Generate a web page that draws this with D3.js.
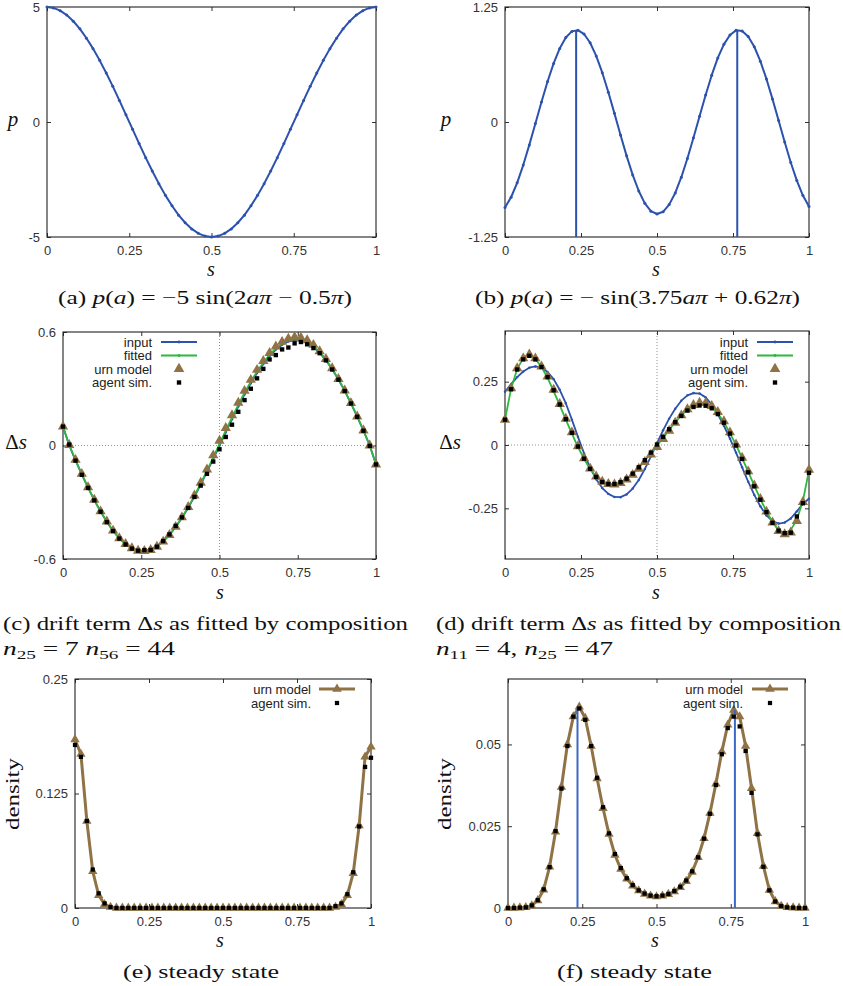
<!DOCTYPE html>
<html>
<head>
<meta charset="utf-8">
<script src="https://cdnjs.cloudflare.com/ajax/libs/d3/7.8.5/d3.min.js"></script>
<style>
  html, body { margin: 0; padding: 0; background: #ffffff; }
  svg { display: block; }
</style>
</head>
<body>
<script>
// ---------------- DATA ----------------
const sVals = [0.00,0.02,0.04,0.06,0.08,0.10,0.12,0.14,0.16,0.18,
               0.20,0.22,0.24,0.26,0.28,0.30,0.32,0.34,0.36,0.38,
               0.40,0.42,0.44,0.46,0.48,0.50,0.52,0.54,0.56,0.58,
               0.60,0.62,0.64,0.66,0.68,0.70,0.72,0.74,0.76,0.78,
               0.80,0.82,0.84,0.86,0.88,0.90,0.92,0.94,0.96,0.98,1.00];

const xTickVals = [0, 0.25, 0.5, 0.75, 1];
const xTickLabels = ["0", "0.25", "0.5", "0.75", "1"];

// (a) p(a)
const pA = [5,4.96,4.84,4.65,4.38,4.05,3.64,3.19,2.68,2.13,
            1.55,0.94,0.31,-0.31,-0.94,-1.55,-2.13,-2.68,-3.19,-3.64,
            -4.05,-4.38,-4.65,-4.84,-4.96,-5,-4.96,-4.84,-4.65,-4.38,
            -4.05,-3.64,-3.19,-2.68,-2.13,-1.55,-0.94,-0.31,0.31,0.94,
            1.55,2.13,2.68,3.19,3.64,4.05,4.38,4.65,4.84,4.96,5];
const aYTicks = [-5, 0, 5];
const aYLabels = ["-5", "0", "5"];

// (b) p(a)
const pB = [-0.930,-0.818,-0.661,-0.468,-0.249,-0.016,0.218,0.440,0.637,0.800,
            0.918,0.985,0.998,0.956,0.861,0.718,0.536,0.324,0.094,-0.141,
            -0.368,-0.575,-0.750,-0.884,-0.969,-1.000,-0.976,-0.898,-0.771,-0.600,
            -0.397,-0.172,0.063,0.294,0.509,0.697,0.844,0.946,0.996,0.990,
            0.930,0.818,0.661,0.468,0.249,0.016,-0.218,-0.440,-0.637,-0.800,-0.918];
const bYTicks = [-1.25, 0, 1.25];
const bYLabels = ["-1.25", "0", "1.25"];
const peakS = [0.234, 0.764];
const bPeakTop = [1.0, 1.0];

// (c) drift term
const cInput = [0.100,0.000,-0.079,-0.153,-0.223,-0.289,-0.349,-0.403,-0.451,-0.490,
                -0.521,-0.542,-0.554,-0.556,-0.550,-0.533,-0.507,-0.473,-0.431,-0.383,
                -0.329,-0.270,-0.206,-0.139,-0.070,0.000,0.070,0.139,0.206,0.270,
                0.329,0.383,0.431,0.473,0.507,0.533,0.550,0.556,0.554,0.542,
                0.521,0.490,0.451,0.403,0.349,0.289,0.223,0.153,0.079,0.000,-0.100];
const cFitted = [0.100,0.002,-0.077,-0.151,-0.222,-0.288,-0.349,-0.403,-0.452,-0.491,
                 -0.522,-0.544,-0.556,-0.558,-0.551,-0.534,-0.507,-0.472,-0.430,-0.381,
                 -0.326,-0.266,-0.201,-0.133,-0.063,0.008,0.079,0.148,0.215,0.279,
                 0.337,0.391,0.438,0.480,0.513,0.539,0.556,0.563,0.560,0.548,
                 0.526,0.494,0.454,0.406,0.351,0.290,0.224,0.153,0.079,0.000,-0.100];
const cUrn = [0.100,0.003,-0.076,-0.150,-0.221,-0.287,-0.348,-0.402,-0.450,-0.490,
              -0.521,-0.543,-0.556,-0.558,-0.552,-0.535,-0.508,-0.473,-0.430,-0.380,
              -0.325,-0.264,-0.197,-0.127,-0.052,0.025,0.093,0.160,0.226,0.289,
              0.347,0.400,0.447,0.489,0.523,0.548,0.565,0.573,0.570,0.556,
              0.532,0.498,0.457,0.408,0.352,0.291,0.224,0.153,0.079,0.000,-0.100];
const cAgent = [0.100,0.005,-0.080,-0.155,-0.224,-0.290,-0.350,-0.405,-0.452,-0.492,
                -0.523,-0.545,-0.556,-0.553,-0.552,-0.535,-0.505,-0.470,-0.425,-0.380,
                -0.330,-0.272,-0.212,-0.150,-0.085,-0.020,0.045,0.110,0.178,0.240,
                0.300,0.355,0.405,0.455,0.478,0.508,0.518,0.540,0.547,0.535,
                0.515,0.488,0.450,0.402,0.348,0.288,0.222,0.152,0.078,-0.002,-0.100];
const cYTicks = [-0.6, 0, 0.6];
const cYLabels = ["-0.6", "0", "0.6"];

// (d) drift term
const dInput = [0.210,0.240,0.268,0.290,0.305,0.310,0.305,0.288,0.260,0.218,
                0.165,0.100,0.032,-0.033,-0.090,-0.135,-0.170,-0.193,-0.205,-0.206,
                -0.195,-0.172,-0.138,-0.095,-0.045,0.007,0.058,0.104,0.143,0.175,
                0.196,0.205,0.203,0.188,0.160,0.122,0.076,0.025,-0.030,-0.088,
                -0.145,-0.197,-0.242,-0.278,-0.300,-0.310,-0.306,-0.290,-0.262,-0.232,-0.212];
const dFitted = [0.100,0.222,0.300,0.343,0.357,0.340,0.308,0.265,0.213,0.157,
                 0.100,0.045,-0.008,-0.055,-0.095,-0.125,-0.145,-0.154,-0.155,-0.148,
                 -0.134,-0.115,-0.090,-0.062,-0.032,-0.002,0.028,0.060,0.090,0.117,
                 0.140,0.156,0.165,0.163,0.150,0.125,0.090,0.047,0.000,-0.052,
                 -0.105,-0.160,-0.213,-0.262,-0.305,-0.337,-0.350,-0.335,-0.295,-0.220,-0.100];
const dUrn = [0.100,0.224,0.303,0.342,0.357,0.342,0.310,0.270,0.218,0.162,
              0.104,0.050,-0.005,-0.052,-0.093,-0.124,-0.145,-0.154,-0.156,-0.150,
              -0.136,-0.118,-0.094,-0.067,-0.038,-0.008,0.024,0.056,0.088,0.117,
              0.141,0.158,0.167,0.166,0.154,0.130,0.094,0.050,0.002,-0.050,
              -0.104,-0.160,-0.213,-0.263,-0.306,-0.340,-0.352,-0.345,-0.300,-0.225,-0.098];
const dAgent = [0.100,0.220,0.298,0.338,0.352,0.338,0.308,0.268,0.216,0.160,
                0.102,0.048,-0.006,-0.054,-0.094,-0.126,-0.146,-0.154,-0.154,-0.147,
                -0.133,-0.113,-0.088,-0.060,-0.030,0.002,0.032,0.062,0.090,0.115,
                0.136,0.150,0.156,0.155,0.145,0.122,0.088,0.045,-0.002,-0.055,
                -0.108,-0.163,-0.216,-0.265,-0.307,-0.338,-0.348,-0.346,-0.282,-0.230,-0.110];
const dYTicks = [-0.25, 0, 0.25];
const dYLabels = ["-0.25", "0", "0.25"];

// (e) steady state
const eUrn = [0.184,0.168,0.095,0.040,0.014,0.004,0.001,0,0,0,
              0,0,0,0,0,0,0,0,0,0,
              0,0,0,0,0,0,0,0,0,0,
              0,0,0,0,0,0,0,0,0,0,
              0,0,0,0,0.001,0.004,0.014,0.038,0.090,0.165,0.176];
const eAgent = [0.178,0.165,0.095,0.042,0.016,0.005,0.001,0,0,0,
                0,0,0,0,0,0,0,0,0,0,
                0,0,0,0,0,0,0,0,0,0,
                0,0,0,0,0,0,0,0,0,0,
                0,0,0,0,0.002,0.005,0.015,0.039,0.089,0.154,0.164];
const eYTicks = [0, 0.125, 0.25];
const eYLabels = ["0", "0.125", "0.25"];

// (f) steady state
const fUrn = [0.0000,0.0000,0.0001,0.0002,0.0007,0.0023,0.0056,0.0126,0.0233,0.0370,
              0.0500,0.0585,0.0615,0.0580,0.0495,0.0396,0.0305,0.0226,0.0162,0.0119,
              0.0089,0.0068,0.0053,0.0043,0.0037,0.0035,0.0037,0.0042,0.0050,0.0063,
              0.0082,0.0110,0.0155,0.0213,0.0290,0.0380,0.0478,0.0560,0.0605,0.0585,
              0.0495,0.0366,0.0228,0.0128,0.0055,0.0020,0.0006,0.0002,0.0001,0.0000,0.0000];
const fAgent = [0.0000,0.0000,0.0001,0.0002,0.0008,0.0024,0.0057,0.0125,0.0235,0.0365,
                0.0495,0.0585,0.0610,0.0575,0.0495,0.0398,0.0308,0.0228,0.0165,0.0122,
                0.0091,0.0070,0.0054,0.0044,0.0038,0.0036,0.0038,0.0043,0.0052,0.0065,
                0.0084,0.0112,0.0155,0.0212,0.0288,0.0376,0.0470,0.0550,0.0585,0.0555,
                0.0480,0.0352,0.0225,0.0126,0.0054,0.0020,0.0006,0.0002,0.0001,0.0000,0.0000];
const fYTicks = [0, 0.025, 0.05];
const fYLabels = ["0", "0.025", "0.05"];
const fPeakTop = [0.0615, 0.0605];

// ---------------- STYLE ----------------
const BLUE = "#2c52ae";
const BLUE_LIGHT = "#3b68c6";
const GREEN = "#2eb83e";
const BROWN = "#8f7345";
const SANS = "Liberation Sans, Arial, sans-serif";
const SERIF = "Liberation Serif, Times New Roman, serif";

const svg = d3.select("body").append("svg")
  .attr("width", 843).attr("height", 986)
  .attr("viewBox", "0 0 843 986");

function makePanel(cfg) {
  const x = d3.scaleLinear().domain([0, 1]).range([cfg.left, cfg.right]);
  const y = d3.scaleLinear().domain(cfg.yDomain).range([cfg.bottom, cfg.top]);
  const g = svg.append("g");

  if (cfg.zeroLines) {
    g.append("line").attr("x1", x(0)).attr("x2", x(1)).attr("y1", y(0)).attr("y2", y(0))
      .attr("stroke", "#777").attr("stroke-width", 0.8).attr("stroke-dasharray", "1,2");
    g.append("line").attr("x1", x(0.5)).attr("x2", x(0.5)).attr("y1", y(cfg.yDomain[0])).attr("y2", y(cfg.yDomain[1]))
      .attr("stroke", "#777").attr("stroke-width", 0.8).attr("stroke-dasharray", "1,2");
  }

  const style = sel => {
    sel.attr("color", "#333").attr("font-family", SANS).attr("font-size", 13);
    sel.select(".domain").remove();
    sel.selectAll("text").attr("fill", "#333");
  };
  g.append("g").attr("transform", `translate(0,${cfg.bottom})`)
    .call(d3.axisBottom(x).tickValues(xTickVals).tickFormat((d, i) => xTickLabels[i]).tickSize(-4).tickPadding(9))
    .call(style);
  g.append("g").attr("transform", `translate(0,${cfg.top})`)
    .call(d3.axisTop(x).tickValues(xTickVals).tickFormat("").tickSize(-4))
    .call(style);
  g.append("g").attr("transform", `translate(${cfg.left},0)`)
    .call(d3.axisLeft(y).tickValues(cfg.yTicks).tickFormat((d, i) => cfg.yLabels[i]).tickSize(-4).tickPadding(7))
    .call(style);
  g.append("g").attr("transform", `translate(${cfg.right},0)`)
    .call(d3.axisRight(y).tickValues(cfg.yTicks).tickFormat("").tickSize(-4))
    .call(style);

  g.append("rect").attr("x", cfg.left).attr("y", cfg.top)
    .attr("width", cfg.right - cfg.left).attr("height", cfg.bottom - cfg.top)
    .attr("fill", "none").attr("stroke", "#222").attr("stroke-width", 1.1);

  return { x, y, g };
}

function drawLine(p, vals, color, width) {
  p.g.append("path").datum(vals)
    .attr("d", d3.line().x((d, i) => p.x(sVals[i])).y(d => p.y(d)))
    .attr("fill", "none").attr("stroke", color).attr("stroke-width", width)
    .attr("stroke-linejoin", "round");
}
function drawDots(p, vals, color, r) {
  p.g.append("g").selectAll("circle").data(vals).join("circle")
    .attr("cx", (d, i) => p.x(sVals[i])).attr("cy", d => p.y(d))
    .attr("r", r).attr("fill", color);
}
function drawSymbols(p, vals, type, size, color) {
  const sym = d3.symbol().type(type).size(size);
  p.g.append("g").selectAll("path").data(vals).join("path")
    .attr("d", sym)
    .attr("transform", (d, i) => `translate(${p.x(sVals[i])},${p.y(d)})`)
    .attr("fill", color);
}
function drawPeakLines(p, tops, color, width) {
  p.g.append("g").selectAll("line").data(peakS).join("line")
    .attr("x1", d => p.x(d)).attr("x2", d => p.x(d))
    .attr("y1", p.y(p.y.domain()[0])).attr("y2", (d, i) => p.y(tops[i]))
    .attr("stroke", color).attr("stroke-width", width);
}

function legend(entries, textRight, lx0, lx1, y0, step) {
  const g = svg.append("g");
  entries.forEach((e, i) => {
    const yy = y0 + i * step;
    g.append("text").attr("x", textRight).attr("y", yy).attr("dy", "0.35em")
      .attr("text-anchor", "end").attr("font-family", SANS).attr("font-size", 13)
      .attr("fill", "#222").text(e.label);
    const mx = (lx0 + lx1) / 2;
    if (e.line) {
      g.append("line").attr("x1", lx0).attr("x2", lx1).attr("y1", yy).attr("y2", yy)
        .attr("stroke", e.color).attr("stroke-width", e.lw);
    }
    if (e.dot) g.append("circle").attr("cx", mx).attr("cy", yy).attr("r", 1.4).attr("fill", e.color);
    if (e.symbol) {
      g.append("path").attr("d", d3.symbol().type(e.symbol).size(e.size)())
        .attr("transform", `translate(${mx},${yy})`).attr("fill", e.symColor || e.color);
    }
  });
}

function axisTitle(x, y, parts, size, rotate, length) {
  const t = svg.append("text").attr("font-family", SERIF).attr("font-size", size).attr("fill", "#111")
    .attr("text-anchor", "middle");
  if (rotate) t.attr("transform", `translate(${x},${y}) rotate(-90)`);
  else t.attr("x", x).attr("y", y);
  if (length) t.attr("textLength", length).attr("lengthAdjust", "spacingAndGlyphs");
  parts.forEach(pt => {
    t.append("tspan").attr("font-style", pt.i ? "italic" : "normal").text(pt.t);
  });
}

function caption(x, y, parts, width, size) {
  const t = svg.append("text").attr("x", x).attr("y", y)
    .attr("font-family", SERIF).attr("font-size", size || 18.5).attr("fill", "#111")
    .attr("textLength", width).attr("lengthAdjust", "spacingAndGlyphs")
    .attr("xml:space", "preserve");
  parts.forEach(pt => {
    const ts = t.append("tspan").attr("font-style", pt.i ? "italic" : "normal");
    if (pt.sub) ts.attr("font-size", 13).attr("dy", 4);
    if (pt.up) ts.attr("dy", -4);
    ts.text(pt.t);
  });
}

// ---------------- PANEL (a) ----------------
const PA = makePanel({ left: 47, right: 376, top: 7, bottom: 237, yDomain: [-5, 5], yTicks: aYTicks, yLabels: aYLabels });
drawLine(PA, pA, BLUE, 2);
drawDots(PA, pA, BLUE, 1.5);
axisTitle(13, 126, [{ t: "p", i: true }], 21);
axisTitle(211, 276, [{ t: "s", i: true }], 20);
caption(58, 304, [
  { t: "(a) " }, { t: "p", i: true }, { t: "(" }, { t: "a", i: true }, { t: ") = −5 sin(2" },
  { t: "aπ", i: true }, { t: " − 0.5" }, { t: "π", i: true }, { t: ")" }
], 294);

// ---------------- PANEL (b) ----------------
const PB = makePanel({ left: 505, right: 809, top: 7, bottom: 237, yDomain: [-1.25, 1.25], yTicks: bYTicks, yLabels: bYLabels });
drawPeakLines(PB, bPeakTop, BLUE, 2);
drawLine(PB, pB, BLUE, 2);
drawDots(PB, pB, BLUE, 1.5);
axisTitle(446, 126, [{ t: "p", i: true }], 21);
axisTitle(656, 276, [{ t: "s", i: true }], 20);
caption(475, 304, [
  { t: "(b) " }, { t: "p", i: true }, { t: "(" }, { t: "a", i: true }, { t: ") = − sin(3.75" },
  { t: "aπ", i: true }, { t: " + 0.62" }, { t: "π", i: true }, { t: ")" }
], 325);

// ---------------- PANEL (c) ----------------
const PC = makePanel({ left: 63, right: 376, top: 332, bottom: 559, yDomain: [-0.6, 0.6], yTicks: cYTicks, yLabels: cYLabels, zeroLines: true });
drawLine(PC, cInput, BLUE, 1.8);
drawDots(PC, cInput, BLUE, 1.2);
drawLine(PC, cFitted, GREEN, 1.8);
drawDots(PC, cFitted, GREEN, 1.2);
drawSymbols(PC, cUrn, d3.symbolTriangle, 46, BROWN);
drawSymbols(PC, cAgent, d3.symbolSquare, 19, "#000");
legend([
  { label: "input", line: true, dot: true, color: BLUE, lw: 1.8 },
  { label: "fitted", line: true, dot: true, color: GREEN, lw: 1.8 },
  { label: "urn model", symbol: d3.symbolTriangle, size: 50, color: BROWN },
  { label: "agent sim.", symbol: d3.symbolSquare, size: 19, color: "#000" }
], 152, 161, 197, 342, 13.5);
axisTitle(16, 449, [{ t: "Δ" }, { t: "s", i: true }], 21);
axisTitle(220, 599, [{ t: "s", i: true }], 20);
caption(3, 630, [
  { t: "(c) drift term Δ" }, { t: "s", i: true }, { t: " as fitted by composition" }
], 405);
caption(3, 655, [
  { t: "n", i: true }, { t: "25", sub: true }, { t: " = 7 ", up: true }, { t: "n", i: true },
  { t: "56", sub: true }, { t: " = 44", up: true }
], 172);

// ---------------- PANEL (d) ----------------
const PD = makePanel({ left: 505, right: 809, top: 331, bottom: 559, yDomain: [-0.45, 0.45], yTicks: dYTicks, yLabels: dYLabels, zeroLines: true });
drawLine(PD, dInput, BLUE, 1.8);
drawDots(PD, dInput, BLUE, 1.2);
drawLine(PD, dFitted, GREEN, 1.8);
drawDots(PD, dFitted, GREEN, 1.2);
drawSymbols(PD, dUrn, d3.symbolTriangle, 46, BROWN);
drawSymbols(PD, dAgent, d3.symbolSquare, 19, "#000");
legend([
  { label: "input", line: true, dot: true, color: BLUE, lw: 1.8 },
  { label: "fitted", line: true, dot: true, color: GREEN, lw: 1.8 },
  { label: "urn model", symbol: d3.symbolTriangle, size: 50, color: BROWN },
  { label: "agent sim.", symbol: d3.symbolSquare, size: 19, color: "#000" }
], 748, 757, 793, 342, 13.5);
axisTitle(450, 449, [{ t: "Δ" }, { t: "s", i: true }], 21);
axisTitle(656, 599, [{ t: "s", i: true }], 20);
caption(436, 630, [
  { t: "(d) drift term Δ" }, { t: "s", i: true }, { t: " as fitted by composition" }
], 405);
caption(436, 655, [
  { t: "n", i: true }, { t: "11", sub: true }, { t: " = 4, ", up: true }, { t: "n", i: true },
  { t: "25", sub: true }, { t: " = 47", up: true }
], 177);

// ---------------- PANEL (e) ----------------
const PE = makePanel({ left: 75, right: 371, top: 679, bottom: 908, yDomain: [0, 0.25], yTicks: eYTicks, yLabels: eYLabels });
drawLine(PE, eUrn, BROWN, 3);
drawSymbols(PE, eUrn, d3.symbolTriangle, 38, BROWN);
drawSymbols(PE, eAgent, d3.symbolSquare, 18, "#000");
legend([
  { label: "urn model", line: true, symbol: d3.symbolTriangle, size: 40, color: BROWN, lw: 3 },
  { label: "agent sim.", symbol: d3.symbolSquare, size: 18, color: "#000" }
], 311, 319, 355, 689, 14);
axisTitle(19, 794, [{ t: "density" }], 19, true, 72);
axisTitle(220, 947, [{ t: "s", i: true }], 20);
caption(123, 978, [{ t: "(e) steady state" }], 156);

// ---------------- PANEL (f) ----------------
const PF = makePanel({ left: 508, right: 805, top: 679, bottom: 908, yDomain: [0, 0.07], yTicks: fYTicks, yLabels: fYLabels });
drawLine(PF, fUrn, BROWN, 3);
drawSymbols(PF, fUrn, d3.symbolTriangle, 38, BROWN);
drawPeakLines(PF, fPeakTop, BLUE_LIGHT, 2);
drawSymbols(PF, fAgent, d3.symbolSquare, 18, "#000");
legend([
  { label: "urn model", line: true, symbol: d3.symbolTriangle, size: 40, color: BROWN, lw: 3 },
  { label: "agent sim.", symbol: d3.symbolSquare, size: 18, color: "#000" }
], 743, 752, 788, 689, 14);
axisTitle(451, 794, [{ t: "density" }], 19, true, 72);
axisTitle(655, 947, [{ t: "s", i: true }], 20);
caption(557, 978, [{ t: "(f) steady state" }], 155);
</script>
</body>
</html>
